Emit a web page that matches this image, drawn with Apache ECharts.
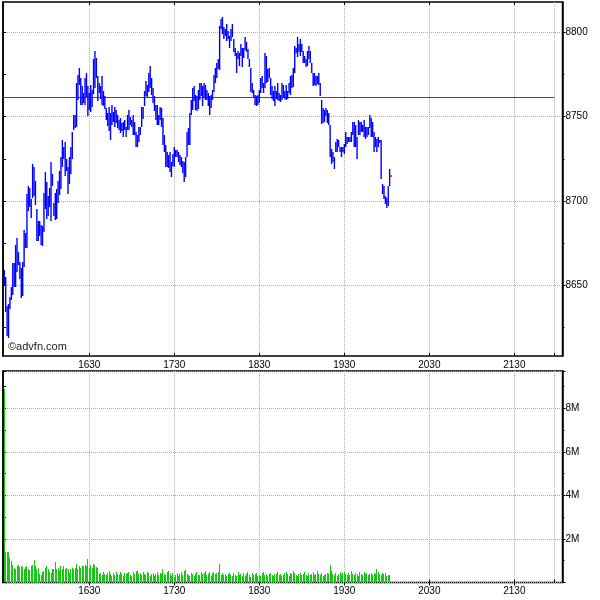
<!DOCTYPE html>
<html><head><meta charset="utf-8">
<script src="https://cdn.jsdelivr.net/npm/echarts@6/dist/echarts.min.js"></script>
<style>html,body{margin:0;padding:0;background:#fff}#c{width:600px;height:600px}</style>
</head><body><div id="c"></div>
<script>
// ---- data (one bar per minute starting 15:30) ----
const startMinute = 930; // 15:30
const highs = [
8659,8655,8638,8639,8643,8649,8663,8663,8674,8678,
8670,8664,8660,8664,8683,8681,8704,8709,8708,8701,
8722,8720,8712,8695,8688,8688,8686,8685,8705,8717,
8711,8703,8708,8723,8716,8699,8705,8707,8712,8718,
8726,8736,8732,8735,8725,8720,8726,8732,8741,8751,
8751,8770,8775,8779,8773,8768,8764,8773,8776,8768,
8764,8769,8766,8784,8789,8785,8774,8770,8768,8774,
8765,8762,8755,8752,8756,8752,8757,8753,8756,8754,
8751,8748,8749,8746,8747,8748,8744,8751,8754,8750,
8748,8751,8747,8741,8739,8744,8744,8756,8756,8765,
8771,8769,8776,8780,8773,8767,8762,8757,8757,8751,
8756,8755,8749,8739,8733,8729,8727,8729,8723,8728,
8732,8730,8730,8729,8727,8726,8724,8723,8726,8741,
8743,8752,8760,8767,8768,8763,8762,8766,8770,8770,
8768,8770,8769,8766,8764,8762,8763,8766,8775,8779,
8782,8784,8804,8808,8809,8803,8802,8805,8801,8798,
8802,8805,8796,8791,8788,8789,8788,8793,8791,8791,
8797,8794,8790,8784,8779,8770,8766,8763,8762,8763,
8766,8773,8774,8770,8788,8786,8778,8779,8773,8768,
8765,8768,8765,8770,8764,8763,8770,8769,8765,8769,
8765,8770,8774,8775,8779,8792,8791,8797,8793,8796,
8793,8789,8786,8784,8789,8792,8789,8782,8776,8776,
8774,8774,8776,8770,8760,8755,8754,8755,8754,8752,
8745,8731,8729,8726,8735,8737,8736,8732,8732,8732,
8734,8741,8738,8738,8738,8741,8747,8747,8745,8738,
8748,8747,8747,8745,8748,8744,8744,8744,8751,8749,
8747,8741,8738,8737,8738,8736,8736,8710,8709,8703,
8702,8709,8719];
const lows = [
8650,8634,8620,8619,8636,8641,8644,8649,8649,8658,
8662,8654,8642,8644,8661,8672,8672,8694,8697,8690,
8702,8703,8698,8676,8676,8679,8674,8673,8682,8695,
8689,8691,8697,8688,8709,8691,8689,8689,8699,8704,
8707,8720,8725,8715,8718,8704,8710,8716,8725,8742,
8743,8744,8760,8769,8757,8757,8758,8757,8762,8750,
8754,8753,8756,8763,8767,8773,8759,8764,8760,8757,
8756,8754,8748,8744,8742,8736,8745,8747,8744,8746,
8743,8742,8740,8741,8738,8742,8738,8742,8742,8745,
8744,8739,8739,8732,8732,8735,8739,8744,8749,8756,
8762,8762,8765,8767,8763,8758,8753,8748,8745,8745,
8748,8744,8733,8729,8720,8720,8719,8717,8714,8721,
8720,8726,8726,8723,8721,8720,8717,8711,8714,8726,
8733,8733,8751,8754,8759,8754,8753,8755,8760,8762,
8756,8761,8760,8760,8756,8751,8755,8760,8765,8770,
8773,8778,8778,8802,8799,8796,8798,8795,8796,8791,
8795,8797,8788,8786,8776,8784,8780,8786,8780,8785,
8789,8788,8784,8779,8765,8764,8762,8757,8756,8757,
8758,8764,8767,8764,8767,8770,8770,8773,8763,8760,
8759,8756,8760,8760,8759,8759,8760,8762,8760,8760,
8760,8764,8763,8767,8768,8776,8788,8785,8788,8786,
8788,8782,8782,8779,8780,8784,8782,8776,8768,8769,
8768,8769,8769,8762,8746,8746,8747,8750,8746,8745,
8726,8722,8723,8719,8729,8729,8732,8729,8726,8729,
8728,8732,8734,8735,8735,8735,8739,8732,8732,8725,
8739,8739,8741,8741,8738,8737,8738,8739,8743,8738,
8738,8729,8732,8729,8732,8734,8713,8704,8701,8698,
8696,8697,8709];
const volumesM = [
8.88,1.39,1.39,1.42,1.13,0.97,0.82,0.67,0.60,0.78,
0.82,0.72,0.75,0.72,0.63,0.72,0.75,0.60,0.57,0.75,
0.82,1.05,0.75,0.64,0.67,0.37,0.33,0.48,0.52,0.67,
0.75,0.60,0.48,0.45,0.60,0.60,0.93,0.60,0.67,0.57,
0.78,0.63,0.78,0.60,0.66,0.60,0.45,0.60,0.67,0.60,
0.67,0.87,0.63,0.75,0.67,0.78,0.78,0.82,0.75,1.08,
0.67,0.80,0.67,0.87,0.82,0.72,0.67,0.37,0.42,0.35,
0.48,0.40,0.33,0.45,0.52,0.38,0.30,0.44,0.36,0.47,
0.41,0.33,0.50,0.39,0.28,0.45,0.37,0.42,0.48,0.35,
0.30,0.46,0.40,0.52,0.55,0.38,0.44,0.33,0.47,0.40,
0.36,0.50,0.42,0.31,0.38,0.45,0.29,0.41,0.49,0.35,
0.43,0.38,0.63,0.40,0.33,0.46,0.55,0.37,0.30,0.42,
0.26,0.35,0.44,0.28,0.39,0.48,0.34,0.52,0.58,0.40,
0.36,0.30,0.45,0.38,0.29,0.41,0.50,0.36,0.33,0.46,
0.38,0.42,0.55,0.35,0.40,0.47,0.32,0.44,0.50,0.38,
0.45,0.48,0.87,0.36,0.42,0.33,0.40,0.30,0.38,0.45,
0.33,0.28,0.42,0.36,0.30,0.47,0.35,0.40,0.32,0.44,
0.29,0.38,0.50,0.36,0.27,0.42,0.34,0.39,0.45,0.31,
0.36,0.28,0.42,0.48,0.33,0.40,0.30,0.37,0.44,0.35,
0.29,0.41,0.38,0.46,0.33,0.40,0.30,0.36,0.43,0.50,
0.37,0.32,0.45,0.39,0.55,0.42,0.35,0.30,0.38,0.44,
0.33,0.40,0.48,0.36,0.30,0.42,0.35,0.39,0.46,0.33,
0.40,0.52,0.38,0.35,0.42,0.30,0.36,0.41,0.45,0.38,
0.82,0.55,0.41,0.36,0.44,0.30,0.39,0.47,0.35,0.42,
0.50,0.38,0.33,0.45,0.36,0.52,0.40,0.34,0.44,0.38,
0.30,0.46,0.41,0.35,0.48,0.37,0.42,0.33,0.40,0.45,
0.36,0.43,0.38,0.60,0.48,0.40,0.35,0.44,0.38,0.42,
0.30,0.36,0.33];
const prevClose = 8761.6;
const lastClose = 8715;
const sessionEnd = 1318.2;              // grey boundary line near 22:00
const timeTicks = [990, 1050, 1110, 1170, 1230, 1290];   // 1630 ... 2130
const priceTicks = [8650, 8700, 8750, 8800];
const priceMinorTicks = [8625, 8675, 8725, 8775];
const xMin = 929.1, xMax = 1324;
const priceMin = 8608.1, priceMax = 8818;
const volMax = 9.71e6;

// ---- build series data ----
const priceData = highs.map((h, i) => [startMinute + i, lows[i], h]);
const volData = volumesM.map((v, i) => [startMinute + i, v * 1e6]);
const lastBar = [[startMinute + highs.length - 1, lastClose]];

const FONT = 'Liberation Sans, Arial, sans-serif';
const gridLine = { show: true, lineStyle: { color: '#a3b0b0', width: 1, type: [1, 1] } };
const fmtTime = v => { const h = Math.floor(v / 60), m = Math.round(v % 60); return String(h) + String(m).padStart(2, '0'); };
const LBL = { color: '#000', fontSize: 10, fontFamily: FONT };

const chart = echarts.init(document.getElementById('c'), null, { renderer: 'canvas' });
chart.setOption({
  animation: false,
  backgroundColor: '#fff',
  grid: [
    { left: 3, top: 2, width: 559.5, height: 354, show: true, borderColor: '#000', borderWidth: 1.5 },
    { left: 3, top: 371, width: 559.5, height: 211.5, show: true, borderColor: '#000', borderWidth: 1.5 }
  ],
  xAxis: [
    { type: 'value', gridIndex: 0, position: 'bottom', min: xMin, max: xMax,
      axisLine: { show: false },
      axisTick: { show: true, inside: true, length: 3, lineStyle: { color: '#000' }, customValues: timeTicks.concat([sessionEnd]) },
      axisLabel: Object.assign({ show: true, customValues: timeTicks, formatter: fmtTime, margin: 4 }, LBL),
      splitLine: gridLine },
    { type: 'value', gridIndex: 0, position: 'top', min: xMin, max: xMax,
      axisLine: { show: false },
      axisTick: { show: true, inside: true, length: 3, lineStyle: { color: '#000' }, customValues: timeTicks },
      axisLabel: { show: false }, splitLine: { show: false } },
    { type: 'value', gridIndex: 1, position: 'bottom', min: xMin, max: xMax,
      axisLine: { show: false },
      axisTick: { show: true, inside: true, length: 3, lineStyle: { color: '#000' }, customValues: timeTicks.concat([sessionEnd]) },
      axisLabel: Object.assign({ show: true, customValues: timeTicks, formatter: fmtTime, margin: 4 }, LBL),
      splitLine: gridLine },
    { type: 'value', gridIndex: 1, position: 'top', min: xMin, max: xMax,
      axisLine: { show: false },
      axisTick: { show: true, inside: true, length: 3, lineStyle: { color: '#000' }, customValues: timeTicks },
      axisLabel: { show: false }, splitLine: { show: false } }
  ],
  yAxis: [
    { type: 'value', gridIndex: 0, position: 'right', min: priceMin, max: priceMax,
      axisLine: { show: true, lineStyle: { color: '#000', width: 1.5 } },
      axisTick: { show: true, inside: false, length: 3, lineStyle: { color: '#000' }, customValues: priceTicks },
      axisLabel: Object.assign({ show: true, customValues: priceTicks, margin: 3, formatter: v => String(v) }, LBL),
      splitLine: gridLine },
    { type: 'value', gridIndex: 0, position: 'right', min: priceMin, max: priceMax,
      axisLine: { show: false },
      axisTick: { show: true, inside: false, length: 2, lineStyle: { color: '#000' }, customValues: priceMinorTicks },
      axisLabel: { show: false }, splitLine: { show: false } },
    { type: 'value', gridIndex: 0, position: 'left', min: priceMin, max: priceMax,
      axisLine: { show: true, lineStyle: { color: '#000', width: 1.5 } },
      axisTick: { show: true, inside: true, length: 3, lineStyle: { color: '#000' }, customValues: priceTicks.concat(priceMinorTicks) },
      axisLabel: { show: false }, splitLine: { show: false } },
    { type: 'value', gridIndex: 1, position: 'right', min: 0, max: volMax, interval: 2e6,
      axisLine: { show: true, lineStyle: { color: '#000', width: 1.5 } },
      axisTick: { show: true, inside: false, length: 3, lineStyle: { color: '#000' } },
      minorTick: { show: true, splitNumber: 2, length: 2, lineStyle: { color: '#000' } },
      axisLabel: Object.assign({ show: true, showMaxLabel: false, margin: 3,
        formatter: v => v === 0 ? '' : (v / 1e6) + 'M' }, LBL),
      splitLine: gridLine },
    { type: 'value', gridIndex: 1, position: 'left', min: 0, max: volMax, interval: 1e6,
      axisLine: { show: true, lineStyle: { color: '#000', width: 1.5 } },
      axisTick: { show: true, inside: true, length: 3, lineStyle: { color: '#000' } },
      axisLabel: { show: false }, splitLine: { show: false } }
  ],
  series: [
    { type: 'custom', xAxisIndex: 0, yAxisIndex: 0, data: priceData, clip: true, z: 3,
      encode: { x: 0, y: [1, 2] },
      renderItem: (params, api) => {
        const x = api.value(0), lo = api.value(1), hi = api.value(2);
        const p1 = api.coord([x, hi]), p2 = api.coord([x, lo]);
        const h = Math.max(Math.round(p2[1] - p1[1]), 1);
        return { type: 'rect', shape: { x: p1[0] - 0.7, y: Math.round(p1[1]), width: 1.4, height: h }, style: { fill: '#0000ff' } };
      },
      markLine: {
        silent: true, symbol: 'none', z: 2, label: { show: false },
        lineStyle: { color: '#ff0000', width: 1, type: 'solid' },
        data: [[{ coord: [xMin, prevClose] }, { coord: [sessionEnd, prevClose] }]]
      }
    },
    { type: 'custom', xAxisIndex: 0, yAxisIndex: 0, data: lastBar, z: 4,
      renderItem: (params, api) => {
        const p = api.coord([api.value(0), api.value(1)]);
        return { type: 'rect', shape: { x: p[0] + 0.7, y: Math.round(p[1]) - 1, width: 1.5, height: 2 }, style: { fill: '#ff0000' } };
      }
    },
    { type: 'custom', xAxisIndex: 2, yAxisIndex: 3, data: volData, clip: true, z: 3,
      encode: { x: 0, y: 1 },
      renderItem: (params, api) => {
        const x = api.value(0), v = api.value(1);
        const p1 = api.coord([x, v]), p0 = api.coord([x, 0]);
        return { type: 'rect', shape: { x: Math.floor(p1[0]), y: Math.round(p1[1]), width: 1, height: Math.round(p0[1] - p1[1]) }, style: { fill: '#14c814' } };
      }
    }
  ],
  graphic: [
    { type: 'text', left: 8, top: 341, z: 10,
      style: { text: '©advfn.com', fill: '#222', font: '11px ' + FONT } }
  ]
});
</script>
</body></html>
